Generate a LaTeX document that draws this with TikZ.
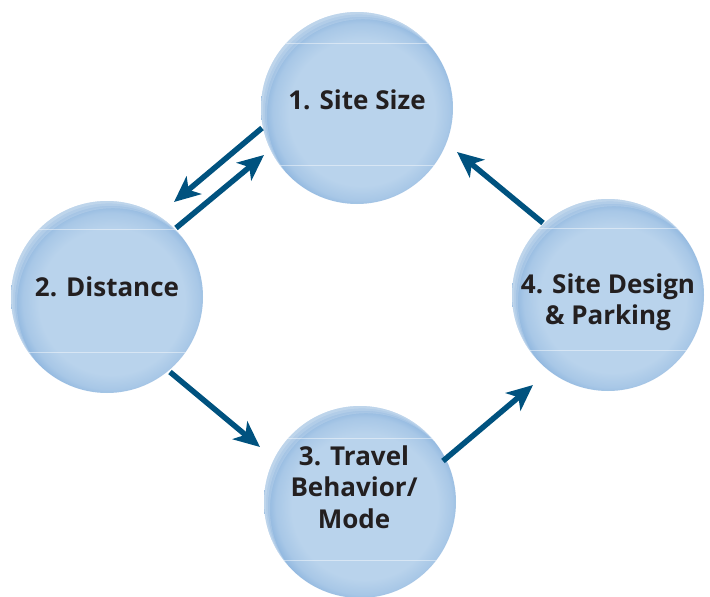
\documentclass[tikz,border=0pt]{standalone}
\usepackage{fontspec}
\setmainfont{Open Sans}
\usetikzlibrary{arrows.meta}
\definecolor{arrowblue}{HTML}{00527F}
\definecolor{discmid}{HTML}{B9D3EC}
\definecolor{discedge}{HTML}{93B9E0}
\definecolor{txt}{HTML}{231F20}
\pgfdeclareradialshading{disc}{\pgfpoint{2bp}{-2bp}}{color(0bp)=(discmid); color(19bp)=(discmid); color(23bp)=(discedge!45!discmid); color(25bp)=(discedge); color(50bp)=(discedge)}
\tikzset{
  disc/.style={circle, minimum size=192pt, inner sep=0pt,
    path picture={
      \shade[shading=disc] (path picture bounding box.center) circle (96pt);
      \foreach \s in {2,4,6}{
        \fill[white, fill opacity=0.16, even odd rule]
          (path picture bounding box.center) circle (96pt)
          ([shift={(\s pt,-1.2*\s pt)}]path picture bounding box.center) circle (96pt);
      }
      \draw[white, opacity=0.45, line width=0.7pt]
        ([shift={(-100pt,#1)}]path picture bounding box.center) -- ++(200pt,0pt);
    }},
  disc/.default={66pt},
  seam/.style={white, opacity=0.45, line width=0.7pt},
  lbl/.style={font=\bfseries\fontsize{26}{31.5}\selectfont, text=txt, align=center, inner sep=0pt},
  flow/.style={draw=arrowblue, line width=5.5pt, -{Stealth[length=26pt, width=23pt, inset=7pt]}},
}
\begin{document}
\begin{tikzpicture}[x=1pt, y=-1pt]
\useasboundingbox (0,0) rectangle (710,597);
\node[disc=65pt] (c1) at (357,108) {};
\node[disc=68pt] (c2) at (107,297) {};
\node[disc=67pt] (c4) at (608,295) {};
\node[disc=64pt] (c3) at (360,502) {};
% lower seams
\begin{scope}
\clip (357,108) circle (96);
\draw[seam] (250,165) -- (460,165);
\end{scope}
\begin{scope}
\clip (107,297) circle (96);
\draw[seam] (0,352) -- (210,352);
\end{scope}
\begin{scope}
\clip (608,295) circle (96);
\draw[seam] (500,350) -- (710,350);
\end{scope}
\begin{scope}
\clip (360,502) circle (96);
\draw[seam] (250,560) -- (470,560);
\end{scope}
\node[lbl] (t1) at (357,100) {1. Site Size};
\node[lbl] (t2) at (107,287) {2. Distance};
\node[lbl] (t4) at (608,302) {4. Site Design\\\& Parking};
\node[lbl] (t3) at (354,487) {3. Travel\\Behavior/\\Mode};
% arrow end points
\coordinate (a12s) at (262,128);
\coordinate (a12e) at (174,202);
\coordinate (a21s) at (176,228);
\coordinate (a21e) at (264,155);
\coordinate (a23s) at (170,372);
\coordinate (a23e) at (260,447);
\coordinate (a34s) at (443,461);
\coordinate (a34e) at (533,385);
\coordinate (a41s) at (543,223);
\coordinate (a41e) at (457,152);
\draw[flow] (a12s) -- (a12e);
\draw[flow] (a21s) -- (a21e);
\draw[flow] (a23s) -- (a23e);
\draw[flow] (a34s) -- (a34e);
\draw[flow] (a41s) -- (a41e);
\end{tikzpicture}
\end{document}
